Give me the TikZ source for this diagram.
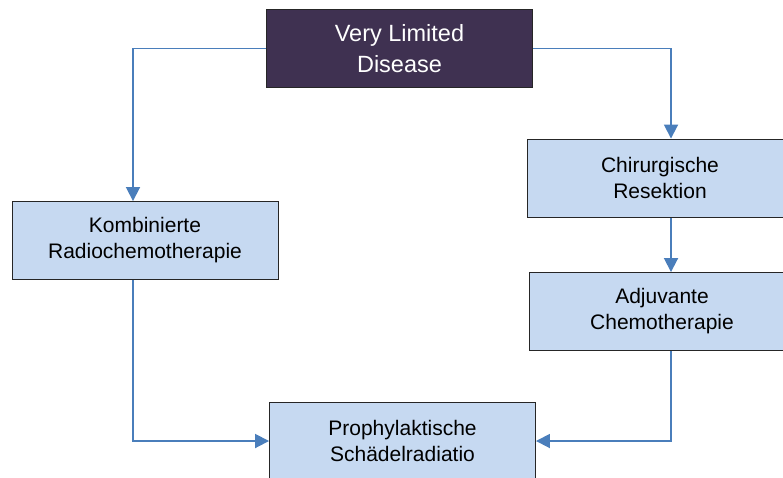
\documentclass[tikz,border=0pt]{standalone}
\usepackage{fontspec}
\setmainfont{Liberation Sans}
\usetikzlibrary{arrows.meta}
\definecolor{topfill}{HTML}{3F3151}
\definecolor{boxfill}{HTML}{C6D9F1}
\definecolor{linecol}{HTML}{4A7EBB}
\tikzset{
  box/.style={draw=black!85, line width=0.9pt, fill=boxfill, minimum width=266pt, minimum height=78pt,
    align=center, inner sep=0pt, font=\fontsize{21pt}{26pt}\selectfont, text=black},
  topbox/.style={box, fill=topfill, text=white, font=\fontsize{23.5pt}{30.5pt}\selectfont},
  arr/.style={draw=linecol, line width=1.8pt, -{Triangle[length=14pt,width=14pt]}},
}
\begin{document}
\begin{tikzpicture}[x=1pt,y=-1pt]
\useasboundingbox (0,0) rectangle (783,477);
\clip (0,0) rectangle (783,477);
\node[topbox] (top) at (399.5,48.5) {Very Limited\\Disease};
\node[box] (komb) at (145,240.5) {Kombinierte\\Radiochemotherapie};
\node[box] (chir) at (660,178) {Chirurgische\\Resektion};
\node[box] (adj) at (662,311.5) {Adjuvante\\Chemotherapie};
\node[box] (pro) at (402.5,441) {Prophylaktische\\Schädelradiatio};
\coordinate (xL) at (133,0);
\coordinate (xR) at (671,0);
\draw[arr] (top.west) -| (xL |- komb.north);
\draw[arr] (top.east) -| (xR |- chir.north);
\draw[arr] (xR |- chir.south) ++(0,1) -- (xR |- adj.north);
\draw[arr] (xL |- komb.south) |- (pro.west);
\draw[arr] (xR |- adj.south) |- (pro.east);
\end{tikzpicture}
\end{document}
